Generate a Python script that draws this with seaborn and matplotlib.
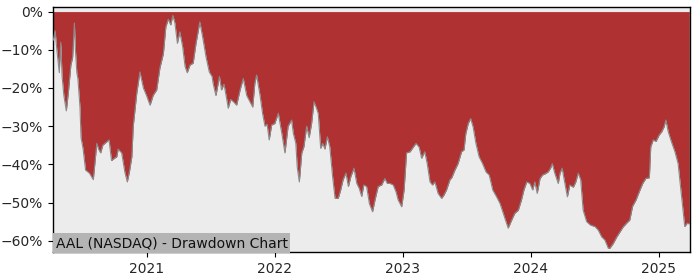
import matplotlib
matplotlib.use("Agg")
import matplotlib.pyplot as plt
import matplotlib.dates as mdates
from matplotlib.ticker import PercentFormatter
import seaborn as sns
import pandas as pd

dates = [
    "2020-04-09", "2020-04-14", "2020-04-19", "2020-04-26", "2020-04-30", "2020-05-04", "2020-05-09",
    "2020-05-16", "2020-05-22", "2020-05-29", "2020-06-03", "2020-06-08", "2020-06-11", "2020-06-15",
    "2020-06-18", "2020-06-24", "2020-06-27", "2020-07-03", "2020-07-10", "2020-07-21", "2020-08-01",
    "2020-08-11", "2020-08-16", "2020-08-22", "2020-08-28", "2020-09-03", "2020-09-15", "2020-09-22",
    "2020-09-29", "2020-10-07", "2020-10-11", "2020-10-21", "2020-10-30", "2020-11-06", "2020-11-12",
    "2020-11-19", "2020-11-23", "2020-12-03", "2020-12-12", "2020-12-22", "2020-12-31",
    "2021-01-10", "2021-01-19", "2021-01-29", "2021-02-07", "2021-02-17", "2021-02-24", "2021-03-03",
    "2021-03-10", "2021-03-16", "2021-03-22", "2021-03-29", "2021-04-05", "2021-04-13", "2021-04-20",
    "2021-04-26", "2021-05-04", "2021-05-13", "2021-05-21", "2021-05-28", "2021-06-01", "2021-06-09",
    "2021-06-19", "2021-06-28", "2021-07-06", "2021-07-09", "2021-07-17", "2021-07-27", "2021-08-02",
    "2021-08-09", "2021-08-17", "2021-08-21", "2021-08-28", "2021-09-05", "2021-09-14", "2021-09-24",
    "2021-10-03", "2021-10-13", "2021-10-22", "2021-10-30", "2021-11-05", "2021-11-10", "2021-11-20",
    "2021-11-27", "2021-12-04", "2021-12-10", "2021-12-16", "2021-12-23",
    "2022-01-01", "2022-01-11", "2022-01-21", "2022-01-30", "2022-02-08", "2022-02-18", "2022-02-23",
    "2022-03-02", "2022-03-06", "2022-03-12", "2022-03-19", "2022-03-25", "2022-04-02", "2022-04-09",
    "2022-04-16", "2022-04-23", "2022-04-30", "2022-05-05", "2022-05-12", "2022-05-18", "2022-05-24",
    "2022-05-31", "2022-06-07", "2022-06-15", "2022-06-22", "2022-07-01", "2022-07-08", "2022-07-15",
    "2022-07-23", "2022-07-30", "2022-08-06", "2022-08-15", "2022-08-23", "2022-08-30", "2022-09-06",
    "2022-09-12", "2022-09-20", "2022-09-28", "2022-10-07", "2022-10-14", "2022-10-23", "2022-11-02",
    "2022-11-11", "2022-11-18", "2022-11-26", "2022-12-05", "2022-12-13", "2022-12-19", "2022-12-29",
    "2023-01-05", "2023-01-12", "2023-01-22", "2023-01-31", "2023-02-08", "2023-02-17", "2023-02-24",
    "2023-03-05", "2023-03-12", "2023-03-20", "2023-03-27", "2023-04-03", "2023-04-12", "2023-04-22",
    "2023-04-29", "2023-05-06", "2023-05-16", "2023-05-21", "2023-05-30", "2023-06-08", "2023-06-18",
    "2023-06-25", "2023-06-30", "2023-07-07", "2023-07-14", "2023-07-21", "2023-07-29", "2023-08-07",
    "2023-08-17", "2023-08-27", "2023-09-05", "2023-09-15", "2023-09-26", "2023-10-06", "2023-10-15",
    "2023-10-23", "2023-10-29", "2023-11-08", "2023-11-17", "2023-11-27", "2023-12-06", "2023-12-13",
    "2023-12-21", "2023-12-30",
    "2024-01-07", "2024-01-13", "2024-01-20", "2024-01-28", "2024-02-04", "2024-02-11", "2024-02-20",
    "2024-02-27", "2024-03-03", "2024-03-10", "2024-03-20", "2024-03-25", "2024-03-31", "2024-04-08",
    "2024-04-15", "2024-04-22", "2024-05-02", "2024-05-09", "2024-05-16", "2024-05-23", "2024-05-30",
    "2024-06-09", "2024-06-20", "2024-07-03", "2024-07-12", "2024-07-22", "2024-07-31", "2024-08-10",
    "2024-08-14", "2024-08-24", "2024-09-03", "2024-09-12", "2024-09-21", "2024-10-01", "2024-10-10",
    "2024-10-18", "2024-10-28", "2024-11-06", "2024-11-16", "2024-11-25", "2024-12-05", "2024-12-09",
    "2024-12-16", "2024-12-24",
    "2025-01-02", "2025-01-09", "2025-01-16", "2025-01-21", "2025-01-28", "2025-02-06", "2025-02-16",
    "2025-02-25", "2025-03-04", "2025-03-10", "2025-03-16", "2025-03-23", "2025-03-29",
]

drawdown_pct = [
    -7.5, -5.0, -10.0, -16.0, -8.0, -17.0, -22.0,
    -26.0, -21.0, -14.0, -12.0, -3.0, -10.0, -16.0,
    -17.5, -25.0, -33.0, -36.0, -41.5, -42.3, -44.0,
    -34.5, -36.0, -37.0, -35.0, -34.5, -33.6, -39.0,
    -38.5, -38.0, -36.0, -37.0, -42.0, -44.6, -42.0,
    -38.0, -30.0, -21.4, -15.8, -20.0, -22.0,
    -24.5, -21.9, -20.5, -14.8, -11.0, -4.0, -2.0,
    -3.5, -1.0, -3.0, -8.3, -5.3, -9.2, -14.4,
    -16.0, -14.0, -13.5, -8.4, -4.8, -2.7, -6.6,
    -12.0, -15.8, -17.0, -18.8, -22.0, -17.0, -20.5,
    -19.0, -23.0, -25.3, -23.0, -23.6, -24.5, -20.5,
    -17.5, -22.0, -23.6, -25.0, -18.8, -16.6, -22.0,
    -26.6, -30.0, -29.5, -33.6, -29.7,
    -29.3, -26.6, -31.9, -37.0, -30.0, -28.4, -31.9,
    -34.5, -40.7, -44.6, -37.0, -35.4, -30.0, -33.0,
    -29.3, -23.6, -25.3, -26.7, -35.8, -34.5, -36.0,
    -32.8, -35.4, -43.2, -48.9, -48.9, -46.7, -44.0,
    -42.3, -45.8, -43.2, -41.0, -45.0, -46.3, -48.4,
    -45.4, -45.8, -50.3, -52.4, -49.3, -45.8, -45.4,
    -43.7, -45.0, -45.0, -45.4, -47.2, -49.3, -51.1,
    -46.7, -37.0, -36.7, -35.5, -34.5, -35.5, -38.4,
    -36.7, -39.8, -44.6, -45.4, -44.6, -47.6, -48.9,
    -48.0, -46.7, -44.0, -43.5, -41.5, -39.8, -36.7,
    -36.2, -32.0, -29.3, -28.0, -30.2, -34.5, -38.0,
    -39.8, -42.0, -42.8, -46.7, -48.5, -50.3, -52.8,
    -55.0, -56.7, -54.6, -52.8, -52.0, -49.3, -46.7,
    -44.6, -45.0,
    -46.7, -44.6, -47.6, -43.7, -42.8, -42.5, -42.0,
    -41.0, -39.8, -42.3, -45.0, -42.3, -41.0, -45.0,
    -48.5, -45.4, -46.0, -44.6, -42.3, -44.0, -52.0,
    -55.0, -55.9, -56.3, -57.2, -59.0, -59.8, -62.0,
    -62.0, -60.7, -59.0, -57.7, -56.4, -55.4, -54.6,
    -51.0, -49.3, -47.2, -45.0, -43.7, -43.5, -35.4,
    -33.6, -34.0,
    -32.3, -31.5, -30.2, -28.4, -31.5, -34.1, -36.7,
    -39.8, -45.8, -51.0, -56.3, -55.4, -55.6,
]

title_text = "AAL (NASDAQ) - Drawdown Chart"
year_ticks = ["2021-01-01", "2022-01-01", "2023-01-01", "2024-01-01", "2025-01-01"]
year_labels = ["2021", "2022", "2023", "2024", "2025"]
y_ticks = [0, -10, -20, -30, -40, -50, -60]

df = pd.DataFrame({"date": pd.to_datetime(dates), "dd": drawdown_pct})

sns.set_style("ticks")
plt.rcParams["font.family"] = ["DejaVu Sans"]

fig = plt.figure(figsize=(7, 2.8), dpi=100)
ax = fig.add_axes([53 / 700, 1 - 252 / 280, 637 / 700, 245 / 280])
ax.set_facecolor("#ececec")

ax.fill_between(df["date"], 0, df["dd"], color="#b03131", linewidth=0, zorder=2)
sns.lineplot(data=df, x="date", y="dd", ax=ax, color="#8a8a8a", linewidth=0.8, zorder=3)

ax.set_xlim(pd.Timestamp("2020-04-08"), pd.Timestamp("2025-03-31"))
ax.set_ylim(-62.95, 1.2)
ax.set_xticks(pd.to_datetime(year_ticks))
ax.set_xticklabels(year_labels)
ax.set_yticks(y_ticks)
ax.yaxis.set_major_formatter(PercentFormatter(decimals=0))
ax.set_xlabel("")
ax.set_ylabel("")
ax.tick_params(axis="both", labelsize=10, color="black", length=3.5, width=0.8)
for s in ax.spines.values():
    s.set_visible(True)
    s.set_color("black")
    s.set_linewidth(1.0)

ax.text(0.004, 0.008, title_text, transform=ax.transAxes, fontsize=10, color="#111111",
        va="bottom", ha="left", zorder=5,
        bbox=dict(boxstyle="square,pad=0.2", facecolor="#b4b4b4", edgecolor="none"))

fig.savefig("out.png", dpi=100)
